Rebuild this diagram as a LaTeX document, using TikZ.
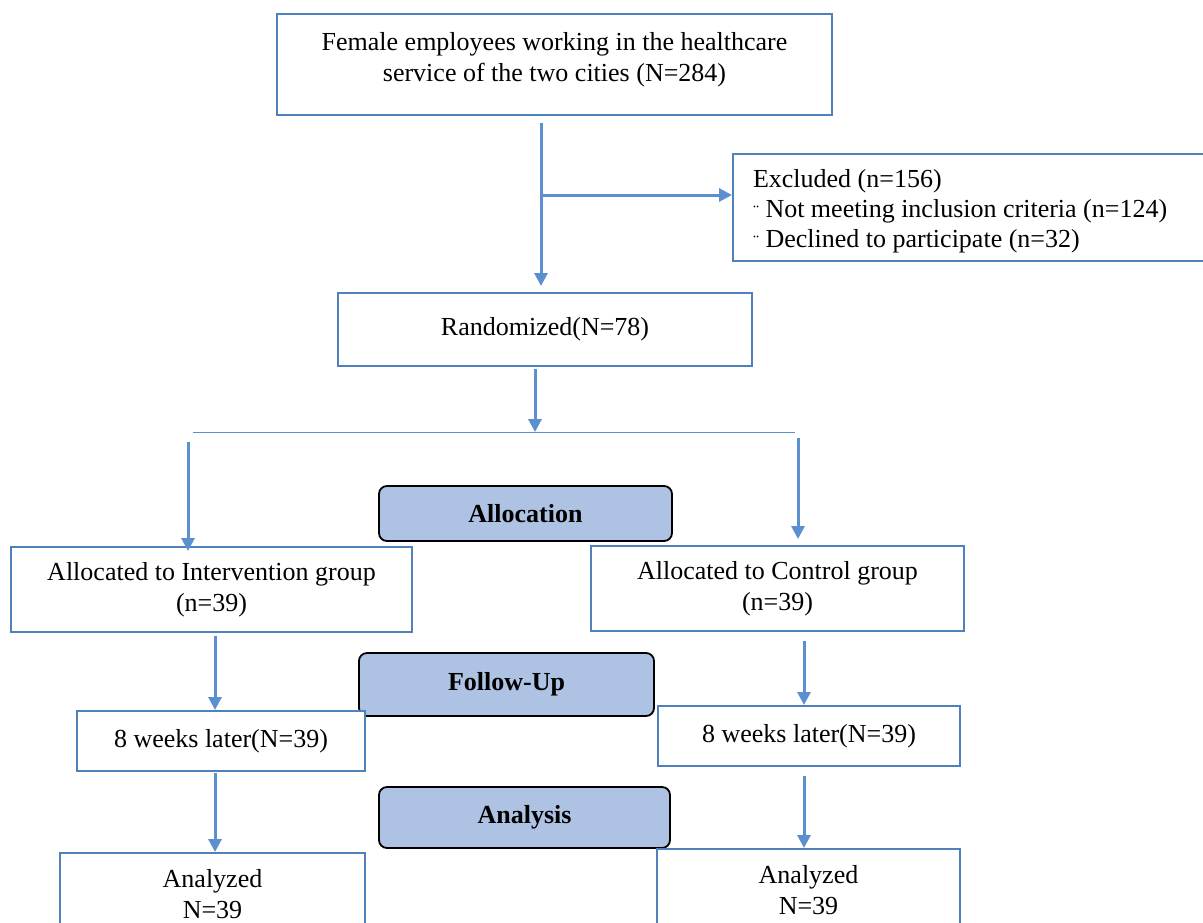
\documentclass[tikz,border=0pt]{standalone}
\usepackage{fontspec}
\setmainfont{Liberation Serif}
\usetikzlibrary{arrows.meta,calc}
\definecolor{boxblue}{RGB}{79,129,189}
\definecolor{arrowblue}{RGB}{91,143,208}
\definecolor{phasefill}{RGB}{174,194,228}
\tikzset{
  flowbox/.style={draw=boxblue, line width=1pt, fill=white, align=center,
    font=\fontsize{13}{15.5}\selectfont, inner sep=2pt},
  phasebox/.style={draw=black, line width=0.9pt, fill=phasefill, rounded corners=4pt,
    font=\bfseries\fontsize{13}{15}\selectfont},
  flowarrow/.style={draw=arrowblue, line width=1.5pt, -{Triangle[width=6.5pt,length=6.5pt]}},
  flowline/.style={draw=arrowblue, line width=0.5pt}
}

\begin{document}
\begin{tikzpicture}[x=0.5pt,y=-0.5pt]
                \useasboundingbox (0,0) rectangle (1203,922);
                \clip (0,0) rectangle (1203,922);

                % boxes
                \node[flowbox, minimum width=277.5pt, minimum height=50.5pt, text depth=8pt] (top) at (554.5,64.5)
                    {Female employees working in the healthcare\\service of the two cities (N=284)};
                \node[flowbox, align=flush left, text width=221pt, inner xsep=10pt, minimum height=53.5pt,
                      font=\fontsize{13}{15}\selectfont] (excluded) at (974,207)
                    {\rule{0pt}{13.5pt}Excluded (n=156)\\
                     {\small ¨} Not meeting inclusion criteria (n=124)\\
                     {\small ¨} Declined to participate (n=32)};
                \node[flowbox, minimum width=207pt, minimum height=36.5pt] (randomized) at (545,329.5) {Randomized(N=78)};

                \node[phasebox, minimum width=146.5pt, minimum height=27.5pt] (allocation) at (525.5,513.5) {Allocation};
                \node[flowbox, minimum width=200.5pt, minimum height=42.5pt] (intL) at (211.5,589.5)
                    {Allocated to Intervention group\\(n=39)};
                \node[flowbox, minimum width=186.5pt, minimum height=42.5pt] (ctrl) at (777.5,588.5)
                    {Allocated to Control group\\(n=39)};

                \node[phasebox, minimum width=147.5pt, minimum height=31.5pt] (followup) at (506.5,684.5) {Follow-Up};
                \node[flowbox, minimum width=144pt, minimum height=30pt] (weekL) at (221,741) {8 weeks later(N=39)};
                \node[flowbox, minimum width=151pt, minimum height=30pt] (weekR) at (809,736) {8 weeks later(N=39)};

                \node[phasebox, minimum width=145.5pt, minimum height=30.5pt] (analysis) at (524.5,817.5) {Analysis};
                \node[flowbox, minimum width=152.5pt, minimum height=41pt] (anaL) at (212.5,894) {Analyzed\\N=39};
                \node[flowbox, minimum width=151.5pt, minimum height=41pt] (anaR) at (808.5,890) {Analyzed\\N=39};

                % connector points
                \coordinate (split) at (541,195);
                \coordinate (fork) at (535,432);
                \coordinate (forkL) at (193,432);
                \coordinate (forkR) at (795,432);
                \coordinate (dropL) at (188,442);
                \coordinate (dropR) at (798,438);
                \coordinate (colL) at (215,0);
                \coordinate (colR) at (804,0);

                % arrows
                \draw[flowarrow, shorten <=3.5pt, shorten >=3pt] (top.south -| split) -- (randomized.north -| split);
                \draw[flowarrow] (split) -- (excluded.west |- split);
                \draw[flowarrow, shorten <=1pt] (randomized.south -| fork) -- (fork);
                \draw[flowline] (forkL) -- (forkR);
                \draw[flowarrow] (dropL) -- ($(intL.north -| dropL)+(0,5)$);
                \draw[flowarrow, shorten >=3pt] (dropR) -- (ctrl.north -| dropR);
                \draw[flowarrow, shorten <=1.5pt] (intL.south -| colL) -- (weekL.north -| colL);
                \draw[flowarrow, shorten <=4.5pt] (ctrl.south -| colR) -- (weekR.north -| colR);
                \draw[flowarrow, shorten <=0.5pt] (weekL.south -| colL) -- (anaL.north -| colL);
                \draw[flowarrow, shorten <=4.5pt] (weekR.south -| colR) -- (anaR.north -| colR);
\end{tikzpicture}
\end{document}
